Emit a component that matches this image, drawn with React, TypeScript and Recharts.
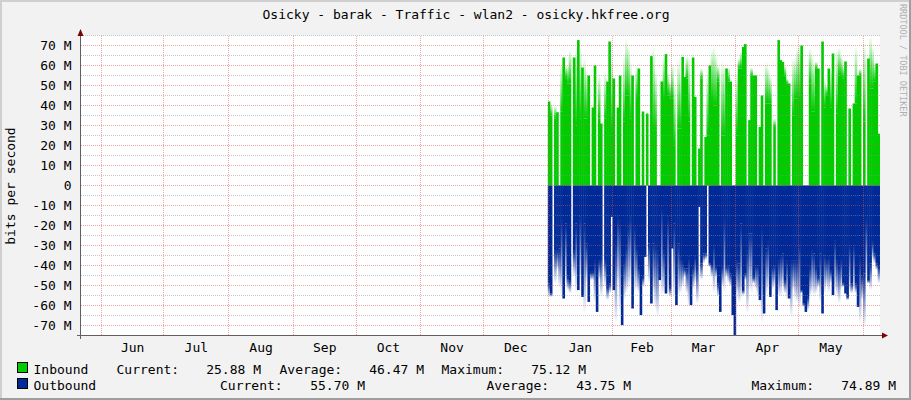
import React from 'react';
import { ComposedChart, Bar, XAxis, YAxis, ReferenceLine, CartesianGrid } from 'recharts';

const FONT = "'DejaVu Sans Mono', monospace";

const monthLabels = ['Jun', 'Jul', 'Aug', 'Sep', 'Oct', 'Nov', 'Dec', 'Jan', 'Feb', 'Mar', 'Apr', 'May'];
const monthMid = [15, 45.5, 76.5, 107, 137.5, 168, 198.5, 229.5, 259, 288.5, 319, 349.5];
const monthStart = [0, 30, 61, 92, 122, 153, 183, 214, 245, 273, 304, 334, 365];
const yTicks = [-70, -60, -50, -40, -30, -20, -10, 0, 10, 20, 30, 40, 50, 60, 70];
const yMinor = [-65, -55, -45, -35, -25, -15, -5, 5, 15, 25, 35, 45, 55, 65, 75];
const firstDay = 214;

// inbound, M bits/s (daily)
const inSolid = [
  42, 35, 0, 33.5, 36.5, 0, 37, 64, 53.5, 51,
  51, 0, 64, 30, 72.7, 33.5, 59, 33.5, 33.5, 55,
  0, 39, 60, 0, 33.5, 31, 0, 33.5, 52, 72,
  27.7, 53.5, 0, 39, 55, 0, 32, 45, 45, 33.5,
  55, 0, 42.7, 58.5, 0, 37, 0, 36, 0, 64.7,
  27.7, 27.7, 0, 0, 52, 42.7, 65.7, 45, 43.5, 43.5,
  20, 0, 28.5, 28.5, 64.3, 54.3, 53.5, 32, 0, 64,
  44.3, 0, 18.5, 53.5, 0, 24.3, 25, 60, 42.7, 40,
  40, 52, 0, 25, 25, 58.5, 52, 52, 0, 0,
  25, 58.5, 58.5, 69.3, 70.7, 0, 32.7, 55, 55, 55,
  0, 29.3, 45, 0, 41, 41, 41, 0, 29.3, 0,
  72.7, 62.7, 61.8, 54.3, 51, 51, 0, 35, 43.5, 43.5,
  42.7, 70, 0, 0, 0, 51, 37, 37, 58.5, 58.5,
  0, 72, 39, 45, 58.5, 39, 66, 0, 36, 55,
  54.3, 53.5, 62, 0, 38.5, 0, 41, 41, 55, 55,
  0, 32, 0, 63.5, 48.5, 48.5, 52, 61, 25.9,
];
const inPeak = [
  42, 41, 0, 40, 37, 0, 62, 64, 60, 60,
  68, 0, 64, 68.5, 73, 69, 59, 64, 58.5, 55,
  0, 39, 60, 0, 56, 31, 0, 57, 52, 72,
  65, 53.5, 0, 39, 55, 0, 65, 73.5, 70, 62,
  55, 0, 60, 58.5, 0, 37, 0, 36, 0, 65,
  70, 58.5, 0, 0, 52, 65, 66, 57, 52, 61,
  53.5, 0, 63.5, 58.5, 64.3, 54.3, 65, 65, 0, 64,
  44.3, 0, 18.5, 58.5, 0, 24.3, 58.5, 60, 68.5, 70,
  66, 60, 0, 62.7, 60, 58.5, 59, 52, 0, 0,
  57, 63.5, 67, 69.3, 70.7, 0, 32.7, 59, 55, 55,
  0, 29.3, 45, 0, 62, 59, 55, 0, 33.5, 0,
  72.7, 62.7, 61.8, 60, 53.5, 51, 0, 64, 63.5, 70,
  71, 70, 0, 0, 0, 69, 66, 62, 62, 58.5,
  0, 72, 53.5, 50, 58.5, 58.5, 66, 0, 68.5, 69,
  65, 60, 62, 0, 38.5, 0, 41, 70, 55, 58.5,
  0, 72, 0, 63.5, 75.1, 70, 62, 61, 25.9,
];
// outbound, M bits/s (drawn below zero)
const outSolid = [
  -49, -54, 0, -32.3, -32.3, -31.5, -17.3, -56.5, -19, -45.7,
  -47.3, 0, -32.3, -19, -52.3, -15.7, -55.7, -19, -29, -58.2,
  -43.2, -43.2, -37.3, -63.2, -37.3, -35.7, 0, -37.3, -50.7, -49,
  -15.7, -52.3, -28.2, -15.7, -17.3, -69.8, -37.3, -30.7, -20.7, -15.7,
  -61.5, -20.7, -30.7, -40.7, -64.8, -45.7, -35.7, 0, -29, -59,
  -29, -29.8, -32.3, -47.3, -10.7, -32.3, -54, -15.7, -50.7, -31.5,
  -19, -59.8, -29, -35.7, -38.2, -41.5, -41.5, -35.7, -59.8, -40.7,
  -35.7, -40.7, -10.7, -39, -34, -34, 0, -39, -39.8, -29.8,
  -40.7, -49, -63.2, -40.7, -17.3, -40.7, -39.8, -44, -64.8, -74.9,
  -37.3, -39, -19, -52.3, -44, -32.3, -24, -24, -45.7, -39.8,
  -39.8, -57.3, -20.7, -64, -31.5, -28.2, -55.7, -40.7, -39.8, -62.3,
  -37.3, -34.8, -34, -47.3, -37.3, -56.5, -37.3, -37.3, -37.3, -37.3,
  -29.8, -52.3, -59, -63.2, -55.7, -40.7, -32.3, -34, -40.7, -45.7,
  -34, -64, -34.8, -37.3, -35.7, -42.3, -54.8, -27.3, -37.3, -40.7,
  -37.3, -49, -54, -55.7, -29.8, -49, -29.8, -49, -60.7, -35.7,
  -44.8, -44, -17.3, -47.3, -39, -28.2, -34, -39, -40.7,
];
const outPeak = [
  -55.7, -55.7, 0, -49, -42.3, -50.7, -55.7, -56.5, -49, -52.3,
  -54, 0, -45.7, -54, -52.3, -49, -55.7, -64, -49, -58.2,
  -47.3, -47.3, -59, -63.2, -47.3, -55.7, 0, -50.7, -57.3, -54,
  -15.7, -52.3, -69, -49, -64, -69.8, -57.3, -54, -52.3, -49,
  -61.5, -54, -52.3, -54, -64.8, -50.7, -35.7, 0, -49, -59,
  -54, -62.3, -65.7, -47.3, -55.7, -54, -54, -54, -55.7, -31.5,
  -57.3, -59.8, -55.7, -54, -50.7, -45.7, -54, -60.7, -59.8, -52.3,
  -49, -59, -10.7, -47.3, -39, -37.3, 0, -40.7, -45.7, -54,
  -45.7, -55.7, -63.2, -50.7, -54, -45.7, -49, -50.7, -64.8, -74.9,
  -54, -59, -57.3, -54.8, -47.3, -64, -52.3, -54, -49, -52.3,
  -55.7, -57.3, -69, -64, -55.7, -52.3, -55.7, -52.3, -50.7, -62.3,
  -55.7, -55.7, -50.7, -54, -57.3, -56.5, -65.7, -52.3, -57.3, -59,
  -62.3, -54, -60.7, -63.2, -62.3, -55.7, -54, -55.7, -54, -50.7,
  -59, -64, -54, -50.7, -54, -49, -54.8, -52.3, -55.7, -59,
  -52.3, -50.7, -54, -57.3, -54, -54, -52.3, -54, -60.7, -69,
  -57.3, -70.7, -47.3, -49, -52.3, -37.3, -39, -42.3, -49,
];

const legendNames = ['Inbound', 'Outbound'];
const legendColors = ['#00CC00', '#002A97'];
const statLabels = ['Current:', 'Average:', 'Maximum:'];
const inStats = ['25.88 M', '46.47 M', '75.12 M'];
const outStats = ['55.70 M', '43.75 M', '74.89 M'];

const data = inSolid.map((v, i) => ({
  day: firstDay + i + 0.5,
  inS: v,
  inG: Math.max(0, inPeak[i] - v),
  outS: outSolid[i],
  outG: Math.min(0, outPeak[i] - outSolid[i]),
}));

const fmtY = (v: number) => (v === 0 ? '0' : `${v} M`);
const fmtX = (v: number) => monthLabels[monthMid.indexOf(v)] ?? '';

const GRID = 'rgba(143,143,143,0.5)';
const MGRID = 'rgba(222,79,79,0.5)';

// bar drawn slightly wider than its band so that neighbouring days join without seams
const makeBarShape = (fill: string) => (p: any) => {
  const { x, y, width, height } = p;
  if (!height || !isFinite(height)) return <g />;
  const y0 = Math.min(y, y + height);
  const h = Math.abs(height);
  return <rect x={x - 0.3} y={y0} width={Math.abs(width) + 0.6} height={h} fill={fill} />;
};

// pixel-snapped dotted grid line
const makeGridShape = (color: string) => (p: any) => {
  const { x1, y1, x2, y2 } = p;
  if (Math.abs(x1 - x2) < 0.01) {
    const x = Math.floor(x1) + 0.5;
    return (
      <line x1={x} x2={x} y1={Math.ceil(Math.min(y1, y2))} y2={Math.floor(Math.max(y1, y2))}
        stroke={color} strokeDasharray="1 1" />
    );
  }
  const y = Math.floor(y1) + 0.5;
  return (
    <line y1={y} y2={y} x1={Math.ceil(Math.min(x1, x2))} x2={Math.floor(Math.max(x1, x2))}
      stroke={color} strokeDasharray="1 1" />
  );
};
const minorShape = makeGridShape(GRID);
const majorShape = makeGridShape(MGRID);

export default function App() {
  const tickStyle = { fontFamily: FONT, fontSize: 13, fill: '#000' };
  return (
    <div style={{ position: 'absolute', left: 0, top: 0, width: 911, height: 400, background: '#F2F2F2', overflow: 'hidden' }}>
      <ComposedChart
        width={911}
        height={400}
        data={data}
        stackOffset="sign"
        barCategoryGap={0}
        barGap={0}
        margin={{ top: 35.5, right: 31, bottom: 34.5, left: 7.5 }}
      >
        <defs>
          <linearGradient id="gIn" x1="0" y1="0" x2="0" y2="1">
            <stop offset="0" stopColor="#00CC00" stopOpacity={0} />
            <stop offset="1" stopColor="#00CC00" stopOpacity={1} />
          </linearGradient>
          <linearGradient id="gOut" x1="0" y1="0" x2="0" y2="1">
            <stop offset="0" stopColor="#002A97" stopOpacity={1} />
            <stop offset="1" stopColor="#002A97" stopOpacity={0} />
          </linearGradient>
        </defs>
        <CartesianGrid fill="#FFFFFF" horizontal={false} vertical={false} stroke="none" />
        <XAxis
          type="number"
          dataKey="day"
          domain={[-10, 373]}
          ticks={monthMid}
          interval={0}
          tickFormatter={fmtX}
          allowDataOverflow
          axisLine={false}
          tickLine={false}
          tickSize={0}
          tickMargin={7}
          height={30}
          tick={tickStyle}
        />
        <YAxis
          type="number"
          domain={[-75, 75]}
          ticks={yTicks}
          interval={0}
          tickFormatter={fmtY}
          allowDataOverflow
          width={73}
          axisLine={false}
          tickLine={false}
          tickSize={0}
          tickMargin={9}
          tick={tickStyle}
        />
        <Bar dataKey="inS" stackId="a" fill="#00CC00" shape={makeBarShape('#00CC00')} isAnimationActive={false} />
        <Bar dataKey="inG" stackId="a" fill="url(#gIn)" shape={makeBarShape('url(#gIn)')} isAnimationActive={false} />
        <Bar dataKey="outS" stackId="a" fill="#002A97" shape={makeBarShape('#002A97')} isAnimationActive={false} />
        <Bar dataKey="outG" stackId="a" fill="url(#gOut)" shape={makeBarShape('url(#gOut)')} isAnimationActive={false} />
        {yMinor.map((v) => (
          <ReferenceLine key={'m' + v} y={v} stroke={GRID} shape={minorShape} />
        ))}
        {yTicks.map((v) => (
          <ReferenceLine key={'M' + v} y={v} stroke={MGRID} shape={majorShape} />
        ))}
        {monthStart.map((v) => (
          <ReferenceLine key={'v' + v} x={v} stroke={MGRID} shape={majorShape} />
        ))}
      </ComposedChart>
      <svg width={911} height={400} style={{ position: 'absolute', left: 0, top: 0, pointerEvents: 'none' }}>
        <rect x={0} y={0} width={911} height={2} fill="#CFCFCF" />
        <rect x={0} y={0} width={2} height={400} fill="#CFCFCF" />
        <rect x={0} y={398} width={911} height={2} fill="#9E9E9E" />
        <rect x={909} y={0} width={2} height={400} fill="#9E9E9E" />
        <line x1={80.5} y1={33} x2={80.5} y2={339} stroke="#606060" strokeWidth={1} />
        <line x1={77} y1={335.5} x2={883} y2={335.5} stroke="#606060" strokeWidth={1} />
        <polygon points="77.5,36 83.5,36 80.5,29" fill="#7F0000" />
        <polygon points="882,332.5 882,338.5 888,335.5" fill="#7F0000" />
        <text x={466} y={19} textAnchor="middle" fontFamily={FONT} fontSize={13} fill="#000">
          Osicky - barak - Traffic - wlan2 - osicky.hkfree.org
        </text>
        <text transform="translate(900,4) rotate(90)" fontFamily={FONT} fontSize={8.5} fill="#B0B0B0">
          RRDTOOL / TOBI OETIKER
        </text>
        <text transform="translate(14.5,186) rotate(-90)" textAnchor="middle" fontFamily={FONT} fontSize={13} fill="#000">
          bits per second
        </text>
        <rect x={17.5} y={362.5} width={10} height={10} fill={legendColors[0]} stroke="#000" />
        <rect x={17.5} y={378.5} width={10} height={10} fill={legendColors[1]} stroke="#000" />
        <g fontFamily={FONT} fontSize={13} fill="#000">
          <text x={33.5} y={373.5}>{legendNames[0]}</text>
          <text x={116.5} y={373.5}>{statLabels[0]}</text>
          <text x={261} y={373.5} textAnchor="end">{inStats[0]}</text>
          <text x={279.5} y={373.5}>{statLabels[1]}</text>
          <text x={424} y={373.5} textAnchor="end">{inStats[1]}</text>
          <text x={441.5} y={373.5}>{statLabels[2]}</text>
          <text x={586} y={373.5} textAnchor="end">{inStats[2]}</text>

          <text x={33.5} y={389.5}>{legendNames[1]}</text>
          <text x={220} y={389.5}>{statLabels[0]}</text>
          <text x={365} y={389.5} textAnchor="end">{outStats[0]}</text>
          <text x={486.5} y={389.5}>{statLabels[1]}</text>
          <text x={631} y={389.5} textAnchor="end">{outStats[1]}</text>
          <text x={751.5} y={389.5}>{statLabels[2]}</text>
          <text x={896} y={389.5} textAnchor="end">{outStats[2]}</text>
        </g>
      </svg>
    </div>
  );
}
